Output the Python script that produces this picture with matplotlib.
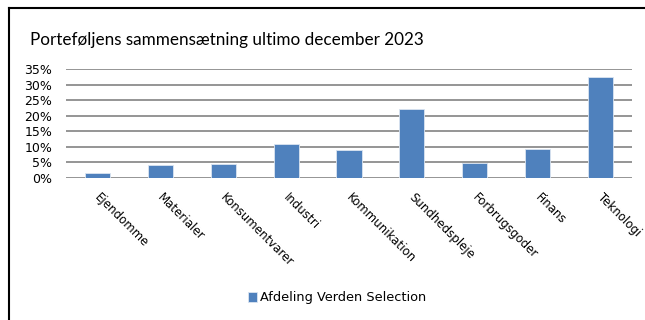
import matplotlib.pyplot as plt
import matplotlib.transforms as mtransforms
import numpy as np

categories = ["Ejendomme", "Materialer", "Konsumentvarer", "Industri", "Kommunikation",
              "Sundhedspleje", "Forbrugsgoder", "Finans", "Teknologi"]
values = [1.5, 4.1, 4.5, 11.0, 9.1, 22.2, 4.8, 9.3, 32.4]
series_name = "Afdeling Verden Selection"
title = "Porteføljens sammensætning ultimo december 2023"

fig = plt.figure(figsize=(6.45, 3.2), dpi=100)
ax = fig.add_axes([66 / 645, 1 - 178 / 320, (632 - 66) / 645, (178 - 69) / 320])

x = np.arange(len(categories))
ax.bar(x, values, width=0.4, color="#4F81BD", edgecolor="#dbe5f1", linewidth=0.6,
       label=series_name, zorder=3)

ax.set_xlim(-0.5, len(categories) - 0.5)
ax.set_ylim(0, 35)
ax.set_yticks(range(0, 36, 5))
ax.set_yticklabels([f"{v}%" for v in range(0, 36, 5)], fontfamily="DejaVu Sans", fontsize=9)
ax.yaxis.grid(True, color="#8c8c8c", linewidth=1.3, zorder=0)
ax.tick_params(axis="both", length=0)
ax.tick_params(axis="y", pad=10)
for s in ax.spines.values():
    s.set_visible(False)

ax.set_xticks(x)
ax.set_xticklabels(categories, rotation=-45, ha="left", va="top", rotation_mode="anchor",
                   fontfamily="DejaVu Sans", fontsize=8.5)
ax.tick_params(axis="x", pad=9)
# nudge the rotated labels a little to the right
shift = mtransforms.ScaledTranslation(4 / 100, 0, fig.dpi_scale_trans)
for lbl in ax.get_xticklabels():
    lbl.set_transform(lbl.get_transform() + shift)

fig.text(30 / 645, 1 - 40 / 320, title, fontfamily="Lato", fontsize=12.3, va="center", ha="left")

leg = fig.legend(loc="center", bbox_to_anchor=(337 / 645, 1 - 298 / 320), frameon=False,
                 prop={"family": "DejaVu Sans", "size": 9.3}, handlelength=0.7, handleheight=0.7,
                 handletextpad=0.2)

# chart border (top and left)
fig.add_artist(plt.Line2D([8.5 / 645, 8.5 / 645], [0, 1 - 7.5 / 320], color="black", linewidth=1.5,
                          transform=fig.transFigure))
fig.add_artist(plt.Line2D([8.5 / 645, 1], [1 - 7.5 / 320, 1 - 7.5 / 320], color="black", linewidth=1.5,
                          transform=fig.transFigure))

fig.savefig("out.png", dpi=100)
